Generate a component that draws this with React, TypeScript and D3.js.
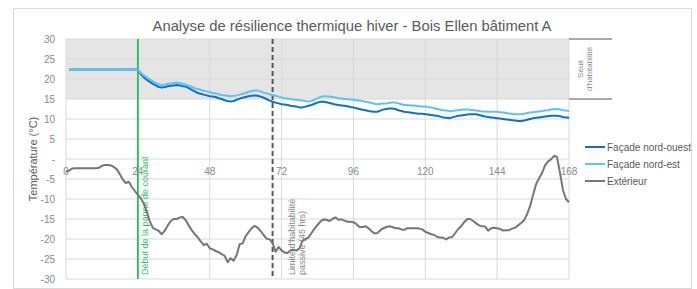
import React from "react";
import * as d3 from "d3";

const title = "Analyse de résilience thermique hiver - Bois Ellen bâtiment A";
const yTicks = [30, 25, 20, 15, 10, 5, 0, -5, -10, -15, -20, -25, -30];
const xTicks = [0, 24, 48, 72, 96, 120, 144, 168];
const seriesNames = ["Façade nord-ouest", "Façade nord-est", "Extérieur"];
const seriesColors = ["#1170c4", "#5cc4f2", "#767676"];

const exterior = [
  -3.2, -2.9, -2.4, -2.3, -2.3, -2.3, -2.3, -2.3, -2.3, -2.3, -2.3, -2.2, -1.7, -1.5, -1.5, -1.6, -2.0, -2.6, -3.8, -5.2,
  -6.0, -5.7, -7.0, -8.0, -9.0, -9.8, -11.2, -13.2, -15.6, -17.2, -17.6, -18.0, -18.8, -17.9, -16.6, -15.5, -15.0, -15.0, -14.6, -14.5,
  -15.3, -16.6, -17.8, -18.8, -19.6, -20.6, -21.5, -21.2, -22.3, -22.6, -23.0, -23.3, -23.8, -24.2, -25.8, -24.8, -25.4, -24.0, -21.3, -21.1,
  -19.3, -18.3, -17.3, -16.7, -17.2, -18.0, -19.0, -19.9, -20.1, -21.0, -23.2, -22.0, -22.8, -23.4, -23.5, -22.8, -22.7, -22.9, -22.3, -20.4,
  -20.0, -19.6, -18.5, -17.4, -16.5, -15.6, -15.1, -15.2, -15.5, -15.0, -14.6, -15.2, -15.1, -15.4, -15.7, -15.7, -15.8, -16.3, -17.0, -17.0,
  -16.8, -17.3, -18.0, -18.6, -18.5, -17.8, -17.3, -17.0, -16.8, -17.0, -17.3, -17.3, -17.6, -17.7, -17.3, -17.3, -17.3, -17.3, -17.4, -17.6,
  -18.2, -18.5, -18.8, -19.0, -19.5, -19.6, -19.7, -20.1, -19.6, -19.5, -18.5, -17.5, -16.8, -15.8, -15.0, -15.0, -15.5, -16.1, -16.6, -16.8,
  -16.9, -17.9, -17.3, -17.2, -17.3, -17.5, -17.9, -17.8, -17.8, -17.4, -17.2, -16.6, -16.0, -15.3, -13.8, -11.8, -9.0, -6.3, -4.8, -3.5,
  -1.6, -0.6, -0.1, 0.8, 0.5, -3.5, -7.8, -10.0, -10.8,
];

const nordOuest = [
  null, 22.4, 22.4, 22.4, 22.4, 22.4, 22.4, 22.4, 22.4, 22.4, 22.4, 22.4, 22.4, 22.4, 22.4, 22.4, 22.4, 22.4, 22.4, 22.4,
  22.4, 22.4, 22.4, 22.4, 22.4, 21.2, 20.4, 19.8, 19.3, 18.8, 18.4, 18.0, 17.9, 18.0, 18.2, 18.3, 18.4, 18.5, 18.4, 18.2,
  18.1, 17.7, 17.3, 16.9, 16.5, 16.3, 16.1, 15.9, 15.7, 15.6, 15.5, 15.2, 15.0, 14.7, 14.5, 14.4, 14.5, 14.8, 15.1, 15.3,
  15.5, 15.7, 15.8, 15.9, 15.8, 15.6, 15.3, 15.0, 14.6, 14.3, 14.1, 13.9, 13.7, 13.6, 13.5, 13.3, 13.2, 13.1, 12.9, 12.9,
  13.1, 13.3, 13.5, 13.8, 14.1, 14.3, 14.3, 14.2, 14.0, 13.8, 13.6, 13.5, 13.4, 13.3, 13.2, 13.0, 12.9, 12.7, 12.5, 12.3,
  12.2, 12.0, 11.9, 11.8, 11.8, 12.1, 12.4, 12.5, 12.6, 12.6, 12.5, 12.2, 12.0, 11.8, 11.7, 11.6, 11.5, 11.4, 11.3, 11.3,
  11.2, 11.1, 11.0, 10.9, 10.8, 10.6, 10.4, 10.3, 10.2, 10.4, 10.6, 10.8, 10.9, 11.0, 11.1, 11.2, 11.2, 11.2, 11.0, 10.8,
  10.6, 10.5, 10.4, 10.3, 10.2, 10.1, 10.0, 9.9, 9.8, 9.7, 9.6, 9.5, 9.5, 9.6, 9.8, 10.0, 10.2, 10.3, 10.4, 10.5,
  10.6, 10.7, 10.8, 10.8, 10.8, 10.7, 10.5, 10.4, 10.3,
];

const nordEst = [
  null, 22.4, 22.4, 22.4, 22.4, 22.4, 22.4, 22.4, 22.4, 22.4, 22.4, 22.4, 22.4, 22.4, 22.4, 22.4, 22.4, 22.4, 22.4, 22.4,
  22.4, 22.4, 22.4, 22.4, 22.4, 21.5, 20.9, 20.4, 19.9, 19.4, 19.0, 18.7, 18.5, 18.6, 18.8, 18.9, 19.0, 19.1, 19.0, 18.8,
  18.6, 18.3, 18.0, 17.7, 17.5, 17.3, 17.1, 16.9, 16.7, 16.5, 16.4, 16.2, 16.0, 15.9, 15.8, 15.7, 15.8, 15.9, 16.1, 16.3,
  16.5, 16.8, 17.0, 17.1, 17.1, 16.9, 16.6, 16.4, 16.2, 16.0, 15.8, 15.6, 15.4, 15.2, 15.1, 15.0, 14.9, 14.8, 14.7, 14.6,
  14.5, 14.4, 14.5, 14.8, 15.2, 15.5, 15.7, 15.7, 15.6, 15.5, 15.4, 15.2, 15.1, 15.0, 15.0, 14.9, 14.8, 14.7, 14.6, 14.5,
  14.3, 14.2, 14.0, 13.8, 13.7, 13.8, 13.9, 13.9, 14.0, 14.1, 14.1, 13.9, 13.7, 13.5, 13.5, 13.4, 13.4, 13.3, 13.2, 13.1,
  13.1, 13.0, 12.9, 12.7, 12.5, 12.3, 12.2, 12.1, 12.0, 12.0, 12.1, 12.2, 12.3, 12.4, 12.4, 12.3, 12.2, 12.1, 12.0, 11.9,
  11.9, 11.8, 11.8, 11.8, 11.8, 11.7, 11.6, 11.5, 11.4, 11.3, 11.2, 11.2, 11.2, 11.3, 11.5, 11.6, 11.7, 11.8, 11.9, 12.0,
  12.1, 12.2, 12.4, 12.5, 12.5, 12.4, 12.2, 12.1, 12.0,
];

const outageHour = 24;
const limitHour = 69;
const thresholdLow = 15;
const thresholdHigh = 30;

export default function App() {
  const W = 697;
  const H = 289;
  const x = d3.scaleLinear().domain([0, 168]).range([66, 569]);
  const y = d3.scaleLinear().domain([-30, 30]).range([279, 39]);
  const lineGen = d3
    .line<number | null>()
    .defined((d) => d !== null)
    .x((_, i) => x(i))
    .y((d) => y(d as number));
  const series = [nordOuest, nordEst, exterior];
  const font = "'Liberation Sans', Arial, sans-serif";
  const tickColor = "#8a8a8a";

  return (
    <svg width={W} height={H} style={{ position: "absolute", left: 0, top: 0, fontFamily: font }}>
      <rect x={0} y={0} width={W} height={H} fill="#fff" />
      <rect x={13.5} y={8.5} width={678} height={280} fill="#fff" stroke="#d9d9d9" />
      <text x={352} y={31} textAnchor="middle" fontSize={14.8} fill="#595959">
        {title}
      </text>
      {/* threshold band */}
      <rect x={x(0)} y={y(thresholdHigh)} width={x(168) - x(0)} height={y(thresholdLow) - y(thresholdHigh)} fill="#e5e5e5" />
      {/* grid */}
      {yTicks.map((t) => (
        <line key={"gy" + t} x1={x(0)} x2={x(168)} y1={y(t)} y2={y(t)} stroke="#d9d9d9" strokeWidth={1} />
      ))}
      {xTicks.map((t) => (
        <line key={"gx" + t} x1={x(t)} x2={x(t)} y1={y(30)} y2={y(-30)} stroke="#d9d9d9" strokeWidth={1} />
      ))}
      {/* y tick labels */}
      {yTicks.map((t) => (
        <text key={"ty" + t} x={55} y={y(t) + 3.5} textAnchor="end" fontSize={10} fill={tickColor}>
          {t === 0 ? "-" : String(t)}
        </text>
      ))}
      {/* x tick labels */}
      {xTicks.map((t) => (
        <text key={"tx" + t} x={x(t)} y={y(0) + 16} textAnchor="middle" fontSize={10} fill={tickColor}>
          {t}
        </text>
      ))}
      <text transform={`translate(37,${y(0)}) rotate(-90)`} textAnchor="middle" fontSize={11} fill="#595959">
        Température (°C)
      </text>
      {/* outage line */}
      <line x1={x(outageHour)} x2={x(outageHour)} y1={y(30)} y2={y(-30)} stroke="#1fbf5a" strokeWidth={1.8} />
      <text transform={`translate(${x(outageHour) + 10},${y(-29)}) rotate(-90)`} fontSize={9} fill="#2fc065">
        Début de la panne de courant
      </text>
      {/* limit line */}
      <line x1={x(limitHour)} x2={x(limitHour)} y1={y(30)} y2={y(-30)} stroke="#555" strokeWidth={2} strokeDasharray="5,3" />
      <text transform={`translate(${x(limitHour) + 22},${y(-29)}) rotate(-90)`} fontSize={9} fill="#8a8a8a">
        <tspan x={0} dy={0}>Limite d'habitabilité</tspan>
        <tspan x={0} dy={10}>passive (45 hrs)</tspan>
      </text>
      {/* series */}
      {series.map((s, i) => (
        <path key={"s" + i} d={lineGen(s) || ""} fill="none" stroke={seriesColors[i]} strokeWidth={2} strokeLinejoin="round" />
      ))}
      {/* threshold annotation */}
      <line x1={x(168)} x2={612} y1={y(thresholdHigh)} y2={y(thresholdHigh)} stroke="#8c8c8c" strokeWidth={1.5} />
      <line x1={x(168)} x2={612} y1={y(thresholdLow)} y2={y(thresholdLow)} stroke="#8c8c8c" strokeWidth={1.5} />
      <text transform={`translate(583,${(y(thresholdHigh) + y(thresholdLow)) / 2}) rotate(-90)`} textAnchor="middle" fontSize={8} fill="#8a8a8a">
        <tspan x={0} dy={0}>Seuil</tspan>
        <tspan x={0} dy={9}>d'habitabilité</tspan>
      </text>
      {/* legend */}
      {seriesNames.map((n, i) => (
        <g key={"lg" + i} transform={`translate(585,${147 + i * 17})`}>
          <line x1={0} x2={20} y1={0} y2={0} stroke={seriesColors[i]} strokeWidth={2} />
          <text x={22} y={3.5} fontSize={10} fill="#595959">
            {n}
          </text>
        </g>
      ))}
    </svg>
  );
}
